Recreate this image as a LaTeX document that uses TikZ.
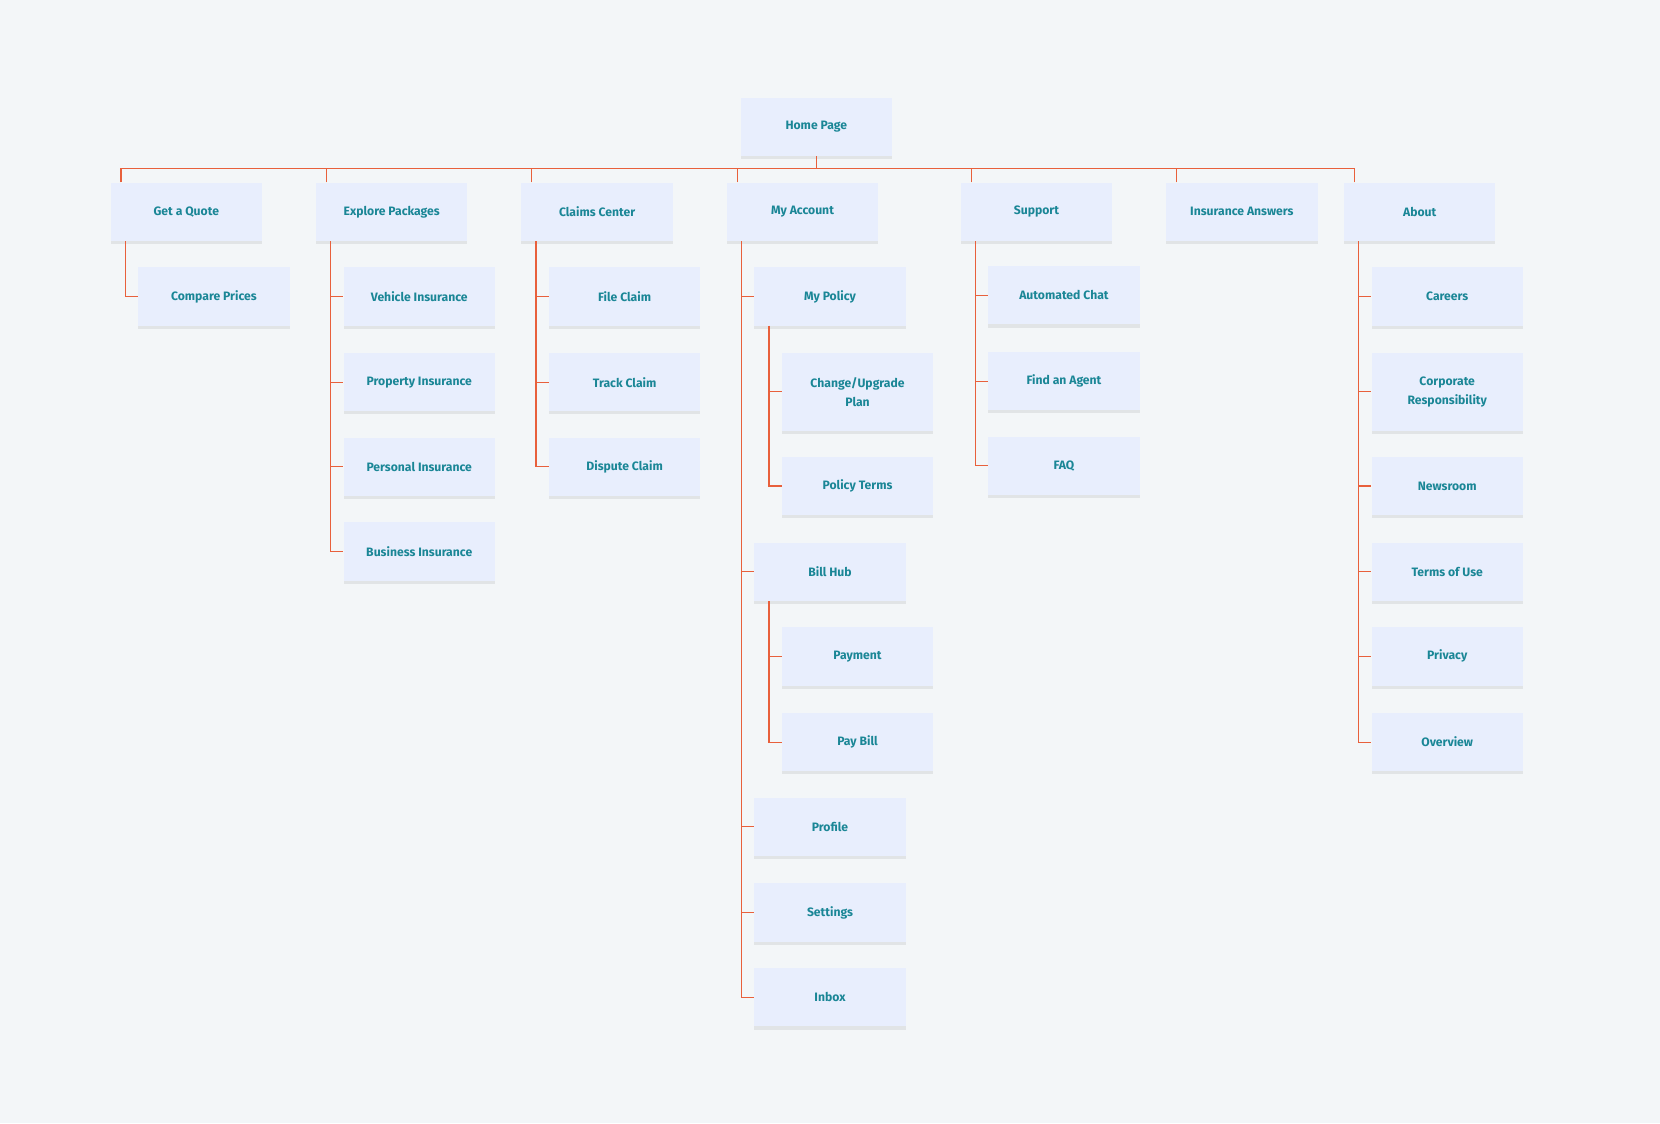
\documentclass[tikz,border=0pt]{standalone}
\usepackage{fontspec}
\setmainfont{Fira Sans}
\usetikzlibrary{shadows}
\definecolor{bg}{HTML}{F3F6F8}
\definecolor{boxc}{HTML}{E8EEFD}
\definecolor{txt}{HTML}{1A8696}
\definecolor{ln}{HTML}{E8603C}
\begin{document}
\begin{tikzpicture}[x=1pt,y=-1pt,
  b/.style={fill=boxc,minimum width=143pt,minimum height=55pt,inner sep=2pt,align=center,
    font=\fontsize{11.5}{18}\selectfont\bfseries,text=txt,
    drop shadow={opacity=0.07,shadow xshift=0pt,shadow yshift=-3pt,fill=black}},
  t/.style={minimum height=74pt},
  c/.style={draw=ln,line width=1.1pt}]
\fill[bg] (0,0) rectangle (1568,1061);
\useasboundingbox (0,0) rectangle (1568,1061);
\node[b] (home) at (771,120) {Home Page};
\coordinate (hb) at (771,159);
\node[b] (q) at (176,200) {Get a Quote};
\node[b] (e) at (370,200) {Explore Packages};
\node[b] (cc) at (564,200) {Claims Center};
\node[b] (m) at (758,200) {My Account};
\node[b] (s) at (979,200) {Support};
\node[b] (ia) at (1173,200) {Insurance Answers};
\node[b] (ab) at (1341,200) {About};
\node[b] (q1) at (202,280) {Compare Prices};
\node[b] (e1) at (396,280) {Vehicle Insurance};
\node[b] (e2) at (396,361) {Property Insurance};
\node[b] (e3) at (396,441) {Personal Insurance};
\node[b] (e4) at (396,521) {Business Insurance};
\node[b] (c1) at (590,280) {File Claim};
\node[b] (c2) at (590,361) {Track Claim};
\node[b] (c3) at (590,441) {Dispute Claim};
\node[b] (m1) at (784,280) {My Policy};
\node[b,t] (m11) at (810,370) {Change/Upgrade\\Plan};
\node[b] (m12) at (810,459) {Policy Terms};
\node[b] (m2) at (784,540) {Bill Hub};
\node[b] (m21) at (810,620) {Payment};
\node[b] (m22) at (810,701) {Pay Bill};
\node[b] (m3) at (784,781) {Profile};
\node[b] (m4) at (784,862) {Settings};
\node[b] (m5) at (784,942) {Inbox};
\node[b] (s1) at (1005,279) {Automated Chat};
\node[b] (s2) at (1005,360) {Find an Agent};
\node[b] (s3) at (1005,440) {FAQ};
\node[b] (a1) at (1367,280) {Careers};
\node[b,t] (a2) at (1367,370) {Corporate\\Responsibility};
\node[b] (a3) at (1367,459) {Newsroom};
\node[b] (a4) at (1367,540) {Terms of Use};
\node[b] (a5) at (1367,620) {Privacy};
\node[b] (a6) at (1367,701) {Overview};
\draw[c] (home.south) -- (hb);
\foreach \n in {q,e,cc,m,s,ia,ab} \draw[c] ([xshift=10pt]\n.north west) |- (hb);
\foreach \p/\k in {q/q1,e/e1,e/e2,e/e3,e/e4,cc/c1,cc/c2,cc/c3,m/m1,m/m2,m/m3,m/m4,m/m5,m1/m11,m1/m12,m2/m21,m2/m22,s/s1,s/s2,s/s3,ab/a1,ab/a2,ab/a3,ab/a4,ab/a5,ab/a6}
  \draw[c] ([xshift=14pt]\p.south west) |- (\k.west);
\end{tikzpicture}
\end{document}
